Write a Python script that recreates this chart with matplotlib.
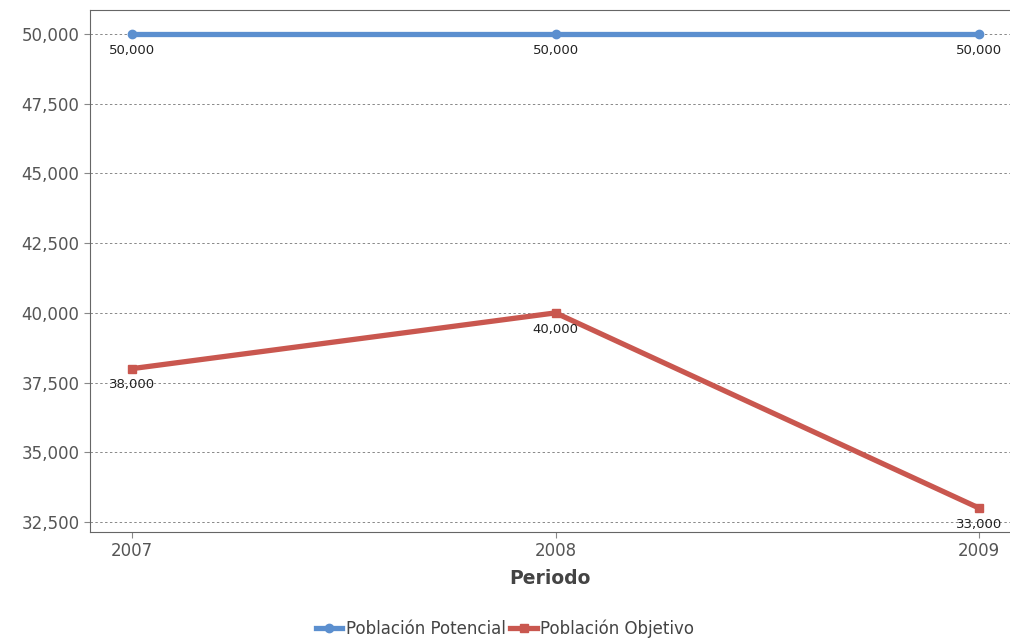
import matplotlib.pyplot as plt
from matplotlib.ticker import FuncFormatter

# Data
years = [2007, 2008, 2009]
potencial = [50000, 50000, 50000]
objetivo = [38000, 40000, 33000]
y_ticks = [32500, 35000, 37500, 40000, 42500, 45000, 47500, 50000]

plt.rcParams['font.family'] = ['DejaVu Sans']

fig = plt.figure(figsize=(10.1, 6.43), dpi=100)
ax = fig.add_axes([0.0891, 0.1726, 0.9109, 0.8118])

blue = '#5b8fcf'
red = '#c9574f'

ax.plot(years, potencial, color=blue, linewidth=3.8, marker='o', markersize=6,
        label='Población Potencial', zorder=3)
ax.plot(years, objetivo, color=red, linewidth=3.8, marker='s', markersize=6,
        label='Población Objetivo', zorder=3)

# Data labels below each point
for x, y in zip(years, potencial):
    ax.annotate(f'{y:,}', (x, y), xytext=(0, -7), textcoords='offset points',
                ha='center', va='top', fontsize=9.5, color='#222222')
for x, y in zip(years, objetivo):
    ax.annotate(f'{y:,}', (x, y), xytext=(0, -7), textcoords='offset points',
                ha='center', va='top', fontsize=9.5, color='#222222')

ax.set_xlim(2006.901, 2009.073)
ax.set_ylim(32141, 50861)
ax.set_xticks(years)
ax.set_yticks(y_ticks)
ax.yaxis.set_major_formatter(FuncFormatter(lambda v, p: f'{int(v):,}'))
ax.grid(axis='y', linestyle=(0, (2.5, 2.5)), color='#888888', linewidth=0.7)
ax.set_axisbelow(True)

for side in ['left', 'bottom', 'top']:
    ax.spines[side].set_color('#666666')
ax.spines['right'].set_visible(False)
ax.tick_params(axis='both', colors='#888888', labelcolor='#555555', labelsize=12,
               length=4)

ax.set_xlabel('Periodo', fontsize=13.5, fontweight='bold', color='#444444', labelpad=6)

leg = fig.legend(loc='lower center', bbox_to_anchor=(0.5, -0.015), ncol=2, frameon=False,
                 fontsize=12, handlelength=1.6, handletextpad=0.2, columnspacing=0.3)
for t in leg.get_texts():
    t.set_color('#444444')

fig.savefig('out.png', dpi=100)
